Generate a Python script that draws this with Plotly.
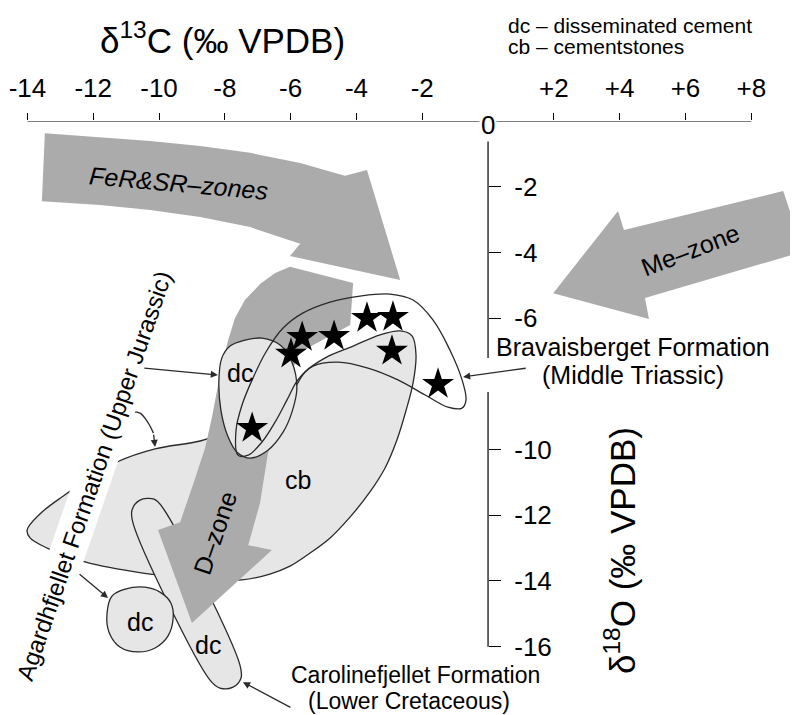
import plotly.graph_objects as go

FONT = "Liberation Sans, Arial, Helvetica, sans-serif"
DARK = "#ababab"
LIGHT = "#e6e6e6"
EDGE = "#2a2a2a"

# ---- axes ----
x_ticks = [-14, -12, -10, -8, -6, -4, -2, 2, 4, 6, 8]
x_tick_text = ["-14", "-12", "-10", "-8", "-6", "-4", "-2", "+2", "+4", "+6", "+8"]
y_ticks = [-2, -4, -6, -10, -12, -14, -16]
y_tick_text = ["-2", "-4", "-6", "-10", "-12", "-14", "-16"]
x_range = [-14.59, 9.42]
y_range = [-18.08, 0]

# ---- Bravaisberget Formation data points (stars) ----
brav_d13c = [-5.65, -4.68, -3.68, -2.89, -5.99, -2.92, -1.52, -7.17]
brav_d18o = [-6.58, -6.55, -6.00, -5.97, -7.09, -7.00, -8.01, -9.35]

# ---- Bravaisberget field outline ----
brav_field_x = [-7.60, -7.66, -7.48, -7.17, -6.75, -6.23, -5.62, -4.80, -3.89, -2.98, -2.28, -1.67,
                -1.16, -0.79, -0.67, -0.79, -1.22, -1.91, -2.74, -3.65, -4.56, -5.32, -5.78, -6.11,
                -6.47, -6.87, -7.29]
brav_field_y = [-10.17, -9.41, -8.65, -7.88, -7.03, -6.30, -5.84, -5.51, -5.33, -5.27, -5.45, -6.06,
                -6.97, -7.88, -8.49, -8.74, -8.71, -8.34, -7.88, -7.52, -7.34, -7.46, -7.88, -8.49,
                -9.16, -9.77, -10.17]

# ---- Agardhfjellet cementstones (cb) field ----
cb_x = [-14.01, -13.62, -12.92, -12.10, -11.28, -10.12, -8.75, -7.99, -7.23, -6.47, -6.02, -5.56,
        -4.95, -4.10, -3.28, -2.67, -2.31, -2.19, -2.28, -2.49, -2.77, -3.13, -3.59, -4.19, -4.80,
        -5.41, -6.02, -6.63, -7.48, -8.30, -9.06, -10.49, -12.25, -13.40, -13.92]
cb_y = [-12.45, -11.96, -11.42, -10.87, -10.38, -9.98, -9.74, -9.47, -9.10, -8.65, -8.34, -7.64,
        -7.21, -6.85, -6.51, -6.39, -6.54, -7.12, -7.98, -8.80, -9.71, -10.56, -11.29, -12.05, -12.69,
        -13.15, -13.55, -13.79, -13.97, -13.97, -13.91, -13.76, -13.42, -13.00, -12.69]

# ---- Agardhfjellet disseminated cement (upper field) ----
dc_up_x = [-8.18, -8.09, -7.84, -7.39, -6.87, -6.32, -5.96, -5.81, -5.96, -6.23, -6.69, -7.23, -7.63, -7.90, -8.12]
dc_up_y = [-7.88, -7.21, -6.85, -6.67, -6.61, -6.82, -7.34, -8.13, -8.86, -9.47, -10.02, -10.26, -10.08, -9.62, -8.80]

# ---- Agardhfjellet disseminated cement (round field) ----
dc_round_x = [-11.58, -11.43, -11.03, -10.43, -9.97, -9.64, -9.57, -9.73, -10.12, -10.64, -11.19, -11.52]
dc_round_y = [-14.98, -14.46, -14.25, -14.19, -14.34, -14.67, -15.13, -15.68, -16.04, -16.16, -16.01, -15.56]

# ---- Carolinefjellet disseminated cement ----
dc_car_x = [-9.88, -10.15, -10.58, -10.82, -10.79, -8.45, -8.15, -7.75, -7.51, -7.54]
dc_car_y = [-11.78, -11.51, -11.54, -11.84, -12.24, -17.02, -17.26, -17.23, -16.96, -16.56]

# ---- trend arrows ----
fer_x = [-13.47, -11.79, -10.27, -8.75, -7.23, -5.71, -4.35, -3.68, -2.67, -6.02, -5.71, -7.23,
         -8.75, -10.27, -11.79, -13.56]
fer_y = [-0.37, -0.49, -0.61, -0.76, -0.97, -1.28, -1.67, -1.49, -4.84, -4.11, -3.74, -3.23,
         -2.92, -2.71, -2.56, -2.44]
me_x = [8.97, 9.42, 9.42, 4.77, 4.89, 1.98, 3.95, 4.13]
me_y = [-2.13, -3.47, -4.02, -5.39, -6.03, -5.24, -2.74, -3.32]
d_x = [-4.10, -4.19, -5.71, -6.08, -6.38, -6.69, -6.93, -7.29, -6.57, -9.00, -10.03, -9.36, -8.97,
       -8.60, -8.39, -8.24, -8.09, -7.90, -7.69, -7.39, -6.93, -6.47, -6.02]
d_y = [-4.93, -6.21, -7.03, -7.88, -9.10, -10.11, -11.63, -12.91, -13.06, -15.28, -12.45, -12.21,
       -11.08, -9.95, -9.01, -8.19, -7.43, -6.67, -6.00, -5.45, -4.96, -4.63, -4.44]

# curved pointer from the Agardhfjellet label to the cb field
curve_x = [-10.94, -10.58, -10.33, -10.17]
curve_y = [-8.86, -8.89, -9.19, -9.50]


def closed(a):
    return list(a) + [a[0]]


fig = go.Figure()


def field(x, y, fill, edge=True, spline=True, width=1.3):
    fig.add_trace(go.Scatter(
        x=closed(x), y=closed(y), mode="lines", fill="toself", fillcolor=fill,
        line=dict(color=EDGE if edge else "rgba(0,0,0,0)", width=width if edge else 0,
                  shape="spline" if spline else "linear", smoothing=1.0),
        hoverinfo="skip", showlegend=False))


field(fer_x, fer_y, DARK, edge=False, spline=False)
field(me_x, me_y, DARK, edge=False, spline=False)
field(cb_x, cb_y, LIGHT)
field(dc_car_x, dc_car_y, LIGHT)
field(dc_round_x, dc_round_y, LIGHT)
field(d_x, d_y, DARK, edge=False, spline=False)
field(dc_up_x, dc_up_y, LIGHT)
fig.add_trace(go.Scatter(x=closed(brav_field_x), y=closed(brav_field_y), mode="lines",
                         line=dict(color=EDGE, width=1.3, shape="spline", smoothing=1.0),
                         hoverinfo="skip", showlegend=False))
fig.add_trace(go.Scatter(x=curve_x, y=curve_y, mode="lines",
                         line=dict(color=EDGE, width=1.3, shape="spline"),
                         hoverinfo="skip", showlegend=False))
fig.add_trace(go.Scatter(x=brav_d13c, y=brav_d18o, mode="markers",
                         marker=dict(symbol="star", size=24, color="black"),
                         hoverinfo="skip", showlegend=False))

# axis lines
fig.add_shape(type="line", xref="x", yref="y", x0=-14, x1=8, y0=0, y1=0,
              line=dict(color="black", width=1.2), layer="above")
fig.add_shape(type="line", xref="x", yref="y", x0=0, x1=0, y0=-0.35, y1=-7.21,
              line=dict(color="black", width=1.2), layer="above")
fig.add_shape(type="line", xref="x", yref="y", x0=0, x1=0, y0=-8.25, y1=-16,
              line=dict(color="black", width=1.2), layer="above")

ann = []


def text(x, y, s, size=25, angle=0, ref="x", xanchor="center", yanchor="middle", **kw):
    d = dict(x=x, y=y, text=s, showarrow=False, textangle=angle,
             xanchor=xanchor, yanchor=yanchor,
             font=dict(family=FONT, size=size, color="black"))
    if ref == "paper":
        d.update(xref="paper", yref="paper")
    else:
        d.update(xref="x", yref="y")
    d.update(kw)
    ann.append(d)


def pointer(x, y, ax, ay):
    ann.append(dict(x=x, y=y, ax=ax, ay=ay, xref="x", yref="y", axref="x", ayref="y",
                    text="", showarrow=True, arrowhead=2, arrowsize=1.1, arrowwidth=1.3,
                    arrowcolor=EDGE))


text(0.271, 1.1397, "δ<sup>13</sup>C (‰ VPDB)", size=35, ref="paper")
text(0.7747, 0.276, "δ<sup>18</sup>O (‰ VPDB)", size=35, angle=-90, ref="paper")
text(0.6304, 1.1616, "dc – disseminated cement", size=21, ref="paper", xanchor="left")
text(0.6304, 1.1246, "cb – cementstones", size=21, ref="paper", xanchor="left")
text(0, 0, "0", size=26, yshift=-4, bgcolor="white", borderpad=1)

text(-9.42, -1.89, "<i>FeR&SR–zones</i>", angle=5)
text(6.14, -3.93, "Me–zone", angle=-21)
text(-8.30, -12.54, "D–zone", angle=-71)
text(-7.54, -7.67, "dc")
text(-5.78, -10.93, "cb")
text(-10.58, -15.25, "dc")
text(-8.51, -15.95, "dc")
text(4.39, -6.88, "Bravaisberget Formation")
text(4.39, -7.73, "(Middle Triassic)")
text(-2.22, -16.86, "Carolinefjellet Formation", size=23, borderpad=0)
text(-2.40, -17.66, "(Lower Cretaceous)", size=23, borderpad=0)
text(-11.98, -10.78, "Agardhfjellet Formation (Upper Jurassic)", size=24, angle=-71,
     bgcolor="white", borderpad=4)

pointer(-8.21, -7.73, -10.49, -7.52)
pointer(-10.12, -9.92, -10.17, -9.50)
pointer(-11.55, -14.52, -12.46, -13.76)
pointer(-0.76, -7.79, 1.19, -7.52)
pointer(-7.45, -17.08, -5.96, -17.87)

fig.update_layout(
    width=790, height=707,
    margin=dict(l=0, r=0, t=113, b=0),
    paper_bgcolor="white", plot_bgcolor="white",
    annotations=ann,
    xaxis=dict(range=x_range, side="top", tickvals=x_ticks, ticktext=x_tick_text,
               ticks="outside", ticklen=7, tickwidth=1.2, tickcolor="black", automargin=False,
               showgrid=False, zeroline=False, showline=False, ticklabelstandoff=6,
               tickfont=dict(family=FONT, size=26, color="black")),
    yaxis=dict(range=y_range, side="right", anchor="free", position=(0 - x_range[0]) / (x_range[1] - x_range[0]),
               tickvals=y_ticks, ticktext=y_tick_text, ticks="outside", ticklen=12, automargin=False,
               tickwidth=1.2, tickcolor="black", showgrid=False, zeroline=False, showline=False,
               ticklabelstandoff=8, tickfont=dict(family=FONT, size=26, color="black")),
)

fig.write_html("out.html")
